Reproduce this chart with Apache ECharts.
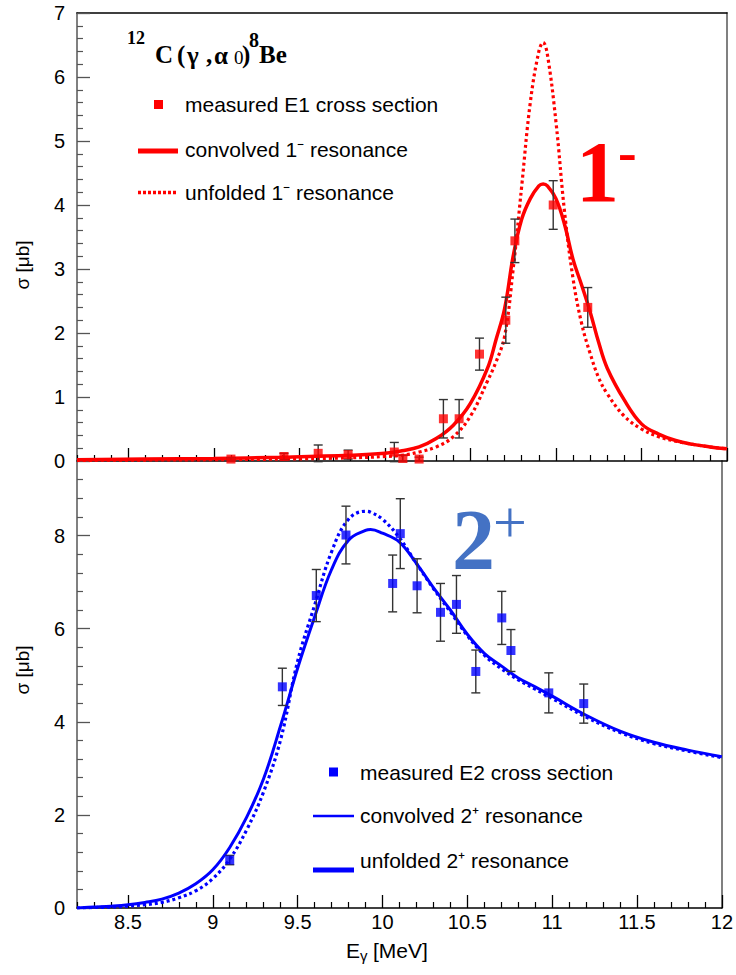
<!DOCTYPE html>
<html><head><meta charset="utf-8">
<script src="https://cdn.jsdelivr.net/npm/echarts@6/dist/echarts.min.js"></script>
<style>html,body{margin:0;padding:0;background:#fff}#c{width:736px;height:975px}</style>
</head><body><div id="c"></div>
<script>
// ---- data ----
// top panel (1- resonance) curves
const xTop = [8.2, 8.6, 9.0, 9.4, 9.8, 10.0, 10.1, 10.2, 10.3, 10.4, 10.5, 10.6, 10.65, 10.7, 10.75, 10.8, 10.85, 10.9, 10.925, 10.95, 11.0, 11.05, 11.1, 11.15, 11.2, 11.25, 11.3, 11.4, 11.5, 11.6, 11.7, 11.8, 11.9, 12.0];
const convolved1 = [0.02, 0.03, 0.04, 0.06, 0.09, 0.12, 0.16, 0.22, 0.35, 0.56, 0.9, 1.45, 1.9, 2.38, 3.2, 3.78, 4.1, 4.3, 4.33, 4.3, 4.1, 3.7, 3.15, 2.75, 2.33, 1.85, 1.45, 0.95, 0.58, 0.42, 0.32, 0.26, 0.22, 0.19];
const unfolded1 = [0.01, 0.015, 0.02, 0.03, 0.05, 0.07, 0.09, 0.14, 0.22, 0.38, 0.7, 1.25, 1.55, 1.95, 3.0, 4.3, 5.6, 6.4, 6.54, 6.35, 5.3, 3.9, 2.85, 2.15, 1.68, 1.3, 1.05, 0.7, 0.5, 0.38, 0.31, 0.26, 0.22, 0.19];
// top panel measured E1 points
const xE1 = [9.1, 9.41, 9.61, 9.785, 10.055, 10.105, 10.2, 10.342, 10.434, 10.553, 10.707, 10.76, 10.984, 11.186];
const yE1 = [0.03, 0.07, 0.12, 0.10, 0.14, 0.04, 0.03, 0.66, 0.66, 1.67, 2.2, 3.44, 4.0, 2.4];
const errE1 = [0.02, 0.05, 0.13, 0.07, 0.15, 0.05, 0.03, 0.3, 0.3, 0.25, 0.36, 0.34, 0.38, 0.31];
// bottom panel (2+ resonance) curves
const xBot = [8.2, 8.3, 8.4, 8.5, 8.6, 8.7, 8.8, 8.9, 9.0, 9.1, 9.2, 9.3, 9.4, 9.5, 9.6, 9.7, 9.8, 9.9, 9.93, 10.0, 10.1, 10.2, 10.3, 10.4, 10.5, 10.6, 10.7, 10.8, 10.9, 11.0, 11.2, 11.4, 11.6, 11.8, 12.0];
const convolved2 = [0, 0.02, 0.04, 0.07, 0.12, 0.19, 0.32, 0.52, 0.82, 1.3, 1.95, 2.78, 3.92, 5.15, 6.25, 7.27, 7.9, 8.11, 8.13, 8.05, 7.86, 7.4, 6.88, 6.4, 5.88, 5.47, 5.2, 4.94, 4.75, 4.55, 4.14, 3.8, 3.56, 3.39, 3.25];
const unfolded2 = [0, 0.01, 0.02, 0.04, 0.07, 0.12, 0.22, 0.37, 0.63, 1.05, 1.68, 2.5, 3.62, 5.3, 6.5, 7.65, 8.35, 8.52, 8.5, 8.35, 7.95, 7.4, 6.86, 6.36, 5.85, 5.43, 5.14, 4.9, 4.7, 4.5, 4.1, 3.77, 3.53, 3.37, 3.23];
// bottom panel measured E2 points
const xE2 = [9.1, 9.41, 9.61, 9.785, 10.06, 10.105, 10.204, 10.342, 10.436, 10.55, 10.703, 10.757, 10.98, 11.186];
const yE2 = [1.03, 4.75, 6.71, 8.01, 6.97, 8.04, 6.92, 6.35, 6.52, 5.08, 6.23, 5.53, 4.62, 4.39];
const errE2 = [0.1, 0.4, 0.56, 0.62, 0.61, 0.75, 0.58, 0.62, 0.62, 0.46, 0.57, 0.45, 0.43, 0.42];
// tick values / labels
const xMajor = [8.5, 9, 9.5, 10, 10.5, 11, 11.5, 12];
const xMinor = [8.2, 8.3, 8.4, 8.6, 8.7, 8.8, 8.9, 9.1, 9.2, 9.3, 9.4, 9.6, 9.7, 9.8, 9.9, 10.1, 10.2, 10.3, 10.4, 10.6, 10.7, 10.8, 10.9, 11.1, 11.2, 11.3, 11.4, 11.6, 11.7, 11.8, 11.9];
const yTopMajor = [0, 1, 2, 3, 4, 5, 6, 7];
const yTopMinor = [0.2,0.4,0.6,0.8,1.2,1.4,1.6,1.8,2.2,2.4,2.6,2.8,3.2,3.4,3.6,3.8,4.2,4.4,4.6,4.8,5.2,5.4,5.6,5.8,6.2,6.4,6.6,6.8];
const yBotMajor = [0, 2, 4, 6, 8];
const yBotMinor = [0.4,0.8,1.2,1.6,2.4,2.8,3.2,3.6,4.4,4.8,5.2,5.6,6.4,6.8,7.2,7.6,8.4,8.8,9.2];
const legendTop = ['measured E1 cross section', 'convolved 1\u207B resonance', 'unfolded 1\u207B resonance'];
const legendBot = ['measured E2 cross section', 'convolved 2\u207A resonance', 'unfolded 2\u207A resonance'];

// ---- build ----
const RED = '#ff0000', BLUE = '#0000ff';
const pairs = (xs, ys) => xs.map((x, i) => [x, ys[i]]);
const errs = (xs, ys, es) => xs.map((x, i) => [x, ys[i] - es[i], ys[i] + es[i]]);
const SANS = 'Liberation Sans, Arial, sans-serif';
const SERIF = 'Liberation Serif, Times New Roman, serif';

function errorBar(params, api) {
  const x = api.value(0);
  const a = api.coord([x, api.value(1)]);
  const b = api.coord([x, api.value(2)]);
  const hw = 4.5, st = { stroke: '#333', lineWidth: 1.4 };
  return { type: 'group', children: [
    { type: 'line', shape: { x1: a[0], y1: a[1], x2: b[0], y2: b[1] }, style: st },
    { type: 'line', shape: { x1: a[0] - hw, y1: a[1], x2: a[0] + hw, y2: a[1] }, style: st },
    { type: 'line', shape: { x1: b[0] - hw, y1: b[1], x2: b[0] + hw, y2: b[1] }, style: st }
  ]};
}

function xAx(grid, opts) {
  return Object.assign({ type: 'value', gridIndex: grid, min: 8.2, max: 12,
    splitLine: { show: false }, axisLabel: { show: false }, axisTick: { show: false },
    axisLine: { show: false } }, opts);
}
function yAx(grid, min, max, opts) {
  return Object.assign({ type: 'value', gridIndex: grid, min: min, max: max,
    splitLine: { show: false }, axisLabel: { show: false }, axisTick: { show: false },
    axisLine: { show: false } }, opts);
}
const blackLine = { show: true, onZero: false, lineStyle: { color: '#000', width: 1.5 } };
const grayLine = { show: true, onZero: false, lineStyle: { color: '#808080', width: 2 } };
const SM = 0.4;
const tt = (x, y, text, font, fill) => ({ type: 'text', x: x, y: y, style: { text: text, font: font, fill: fill || '#000', textVerticalAlign: 'middle' } });
const TB = 'bold 25px ' + SERIF;

const option = {
  animation: false,
  backgroundColor: '#fff',
  grid: [
    { left: 77, right: 9, top: 13, height: 448 },
    { left: 77, right: 9, top: 461, height: 447 }
  ],
  xAxis: [
    xAx(0, { position: 'bottom', axisLine: blackLine, axisTick: { show: true, inside: true, length: 13, customValues: xMajor, lineStyle: { color: '#000', width: 1.3 } } }),
    xAx(0, { position: 'bottom', axisTick: { show: true, inside: true, length: 6, customValues: xMinor, lineStyle: { color: '#000', width: 1.2 } } }),
    xAx(0, { position: 'top', axisLine: blackLine }),
    xAx(1, { position: 'bottom', axisLine: blackLine,
      axisTick: { show: true, inside: true, length: 13, customValues: xMajor, lineStyle: { color: '#000', width: 1.3 } },
      axisLabel: { show: true, customValues: xMajor, margin: 4, color: '#000', fontSize: 20, fontFamily: SANS, formatter: v => String(v) } }),
    xAx(1, { position: 'bottom', axisTick: { show: true, inside: true, length: 6, customValues: xMinor, lineStyle: { color: '#000', width: 1.2 } } })
  ],
  yAxis: [
    yAx(0, 0, 7, { position: 'left', axisLine: grayLine,
      axisTick: { show: true, inside: true, length: 13, customValues: yTopMajor, lineStyle: { color: '#555', width: 1.3 } },
      axisLabel: { show: true, customValues: yTopMajor, margin: 12, color: '#000', fontSize: 20, fontFamily: SANS } }),
    yAx(0, 0, 7, { position: 'left', axisTick: { show: true, inside: true, length: 6, customValues: yTopMinor, lineStyle: { color: '#555', width: 1.2 } } }),
    yAx(0, 0, 7, { position: 'right', axisLine: grayLine }),
    yAx(1, 0, 9.6, { position: 'left', axisLine: grayLine,
      axisTick: { show: true, inside: true, length: 13, customValues: yBotMajor, lineStyle: { color: '#555', width: 1.3 } },
      axisLabel: { show: true, customValues: yBotMajor, margin: 12, color: '#000', fontSize: 20, fontFamily: SANS } }),
    yAx(1, 0, 9.6, { position: 'left', axisTick: { show: true, inside: true, length: 6, customValues: yBotMinor, lineStyle: { color: '#555', width: 1.2 } } }),
    yAx(1, 0, 9.6, { position: 'right', axisLine: grayLine })
  ],
  series: [
    { name: legendTop[2], type: 'line', xAxisIndex: 0, yAxisIndex: 0, data: pairs(xTop, unfolded1),
      smooth: SM, showSymbol: false, symbol: 'none', z: 3,
      lineStyle: { color: RED, width: 3.2, type: [3, 3] } },
    { name: legendTop[1], type: 'line', xAxisIndex: 0, yAxisIndex: 0, data: pairs(xTop, convolved1),
      smooth: SM, showSymbol: false, symbol: 'none', z: 4,
      lineStyle: { color: RED, width: 3.5 } },
    { name: 'E1 errors', type: 'custom', xAxisIndex: 0, yAxisIndex: 0, data: errs(xE1, yE1, errE1),
      renderItem: errorBar, z: 5 },
    { name: legendTop[0], type: 'scatter', xAxisIndex: 0, yAxisIndex: 0, data: pairs(xE1, yE1),
      symbol: 'rect', symbolSize: 9, itemStyle: { color: RED }, z: 6 },

    { name: legendBot[2], type: 'line', xAxisIndex: 3, yAxisIndex: 3, data: pairs(xBot, unfolded2),
      smooth: SM, showSymbol: false, symbol: 'none', z: 3,
      lineStyle: { color: BLUE, width: 3.2, type: [3, 3] } },
    { name: legendBot[1], type: 'line', xAxisIndex: 3, yAxisIndex: 3, data: pairs(xBot, convolved2),
      smooth: SM, showSymbol: false, symbol: 'none', z: 4,
      lineStyle: { color: BLUE, width: 3 } },
    { name: 'E2 errors', type: 'custom', xAxisIndex: 3, yAxisIndex: 3, data: errs(xE2, yE2, errE2),
      renderItem: errorBar, z: 5 },
    { name: legendBot[0], type: 'scatter', xAxisIndex: 3, yAxisIndex: 3, data: pairs(xE2, yE2),
      symbol: 'rect', symbolSize: 9, itemStyle: { color: BLUE }, z: 6 }
  ],
  graphic: [
    // title 12C(γ,α0)8Be
    tt(127, 38, '12', 'bold 18px ' + SERIF),
    tt(155, 54, 'C', TB),
    tt(177, 54, '(', TB),
    tt(187, 55, '\u03B3', TB),
    tt(206, 54, ',', TB),
    tt(214, 55, '\u03B1', TB),
    tt(234, 57, '0', '19px ' + SERIF),
    tt(242, 54, ')', TB),
    tt(249, 40, '8', 'bold 20px ' + SERIF),
    tt(259, 54, 'Be', TB),
    // big labels
    tt(576, 172, '1', 'bold 86px ' + SERIF, RED),
    tt(618, 152, '-', 'bold 56px ' + SERIF, RED),
    tt(452, 540, '2', 'bold 86px ' + SERIF, '#4472c4'),
    tt(493, 522, '+', '60px ' + SERIF, '#4472c4'),
    // axis titles
    { type: 'text', x: 22, y: 265, rotation: Math.PI / 2, style: { text: '\u03C3 [\u03BCb]', font: '19px ' + SANS, fill: '#000', textAlign: 'center', textVerticalAlign: 'middle' } },
    { type: 'text', x: 22, y: 670, rotation: Math.PI / 2, style: { text: '\u03C3 [\u03BCb]', font: '19px ' + SANS, fill: '#000', textAlign: 'center', textVerticalAlign: 'middle' } },
    tt(346, 950, 'E', '21px ' + SANS),
    tt(360, 955, '\u03B3', '15px ' + SANS),
    tt(373, 950, '[MeV]', '21px ' + SANS),
    // top legend
    { type: 'rect', shape: { x: 154, y: 100, width: 9, height: 9 }, style: { fill: RED } },
    { type: 'line', shape: { x1: 138, y1: 151, x2: 178, y2: 151 }, style: { stroke: RED, lineWidth: 5 } },
    { type: 'line', shape: { x1: 138, y1: 192.5, x2: 178, y2: 192.5 }, style: { stroke: RED, lineWidth: 3.5, lineDash: [3, 2] } },
    tt(185, 104, legendTop[0], '21px ' + SANS),
    tt(185, 149, legendTop[1], '21px ' + SANS),
    tt(185, 192, legendTop[2], '21px ' + SANS),
    // bottom legend
    { type: 'rect', shape: { x: 329, y: 767.5, width: 9, height: 9 }, style: { fill: BLUE } },
    { type: 'line', shape: { x1: 313, y1: 816, x2: 354, y2: 816 }, style: { stroke: BLUE, lineWidth: 2.7 } },
    { type: 'line', shape: { x1: 313, y1: 870, x2: 354, y2: 870 }, style: { stroke: BLUE, lineWidth: 5 } },
    tt(360, 772, legendBot[0], '21px ' + SANS),
    tt(360, 815, legendBot[1], '21px ' + SANS),
    tt(360, 860, legendBot[2], '21px ' + SANS)
  ]
};
const chart = echarts.init(document.getElementById('c'), null, { renderer: 'svg' });
chart.setOption(option);
</script>
</body></html>
